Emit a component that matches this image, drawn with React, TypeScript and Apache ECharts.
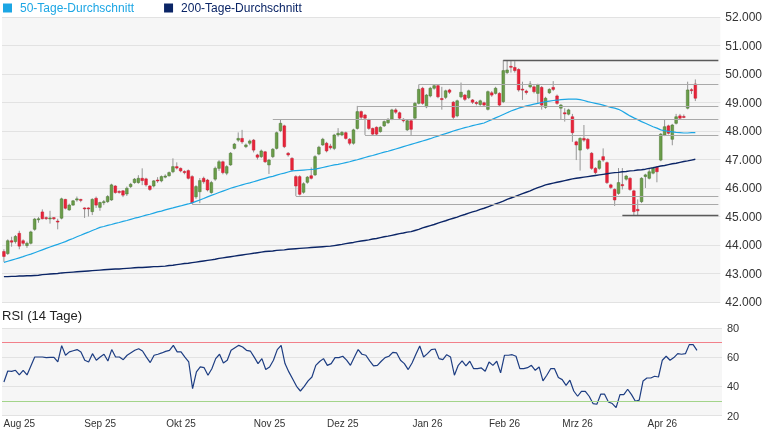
import React, { useEffect, useRef } from "react";
import * as echarts from "echarts";

// ---- data (prices in thousands of points) ----
const OPEN = [
  43.77,43.70,44.15,44.12,44.41,44.15,43.98,44.06,44.55,44.90,
  45.16,44.96,44.93,44.96,44.84,44.94,45.60,45.23,45.40,45.58,
  45.60,45.30,45.30,45.17,45.64,45.32,45.49,45.52,45.58,46.07,
  45.88,45.90,45.79,46.05,46.19,46.19,46.34,46.32,46.07,46.07,
  46.28,46.25,46.38,46.43,46.57,46.75,46.69,46.58,46.61,46.40,
  45.69,45.87,46.34,46.28,45.84,46.31,46.69,46.92,46.52,46.81,
  47.39,47.68,47.74,47.45,47.57,47.68,47.16,47.10,47.27,46.81,
  47.10,47.39,48.01,48.18,47.22,47.04,46.40,46.40,45.85,46.20,
  46.43,46.46,47.19,47.51,47.57,47.47,47.39,47.86,47.86,47.94,
  47.71,47.57,48.09,48.68,48.56,48.39,48.09,48.13,47.98,48.18,
  48.29,48.41,48.74,48.64,48.41,48.04,48.36,48.45,48.97,49.50,
  48.85,49.23,49.50,49.59,49.14,49.18,49.44,49.01,48.53,49.20,
  49.26,49.17,49.09,49.00,48.93,48.99,48.76,49.34,49.32,49.32,
  49.03,50.05,50.27,50.23,50.16,49.47,49.40,49.55,49.55,49.32,
  49.53,48.83,49.34,49.53,49.23,48.80,48.64,48.59,48.50,47.62,
  47.33,47.74,47.71,47.22,46.69,46.69,47.10,46.89,46.11,45.95,
  45.81,46.12,46.31,46.34,45.90,45.25,45.52,46.40,46.34,46.52,
  46.73,46.98,47.86,48.18,47.71,48.27,48.53,48.51,48.80,49.45,49.65
];
const CLOSE = [
  43.60,44.15,44.10,44.30,43.96,44.06,44.06,44.46,44.91,44.92,
  44.92,44.93,44.95,44.92,44.82,45.62,45.29,45.40,45.55,45.62,
  45.57,45.28,45.27,45.60,45.40,45.49,45.52,45.70,46.11,45.84,
  45.86,45.75,45.99,46.13,46.31,46.34,46.26,46.11,45.95,46.25,
  46.27,46.40,46.42,46.54,46.75,46.70,46.60,46.54,46.34,45.48,
  46.05,46.26,46.22,45.93,46.19,46.69,46.92,46.54,46.75,47.22,
  47.54,47.74,47.62,47.51,47.65,47.33,47.08,47.30,46.92,46.98,
  47.36,47.94,48.27,47.45,47.16,46.63,46.07,45.78,46.15,46.38,
  46.34,47.10,47.43,47.71,47.30,47.41,47.86,47.92,47.95,47.74,
  47.57,48.04,48.68,48.48,48.45,48.09,47.89,47.89,48.13,48.33,
  48.41,48.74,48.66,48.45,48.36,48.36,48.06,48.97,49.46,48.97,
  49.26,49.50,49.59,49.20,49.10,49.41,49.36,48.48,49.06,49.36,
  49.11,49.41,49.01,48.98,49.06,48.91,49.38,49.26,49.50,48.91,
  50.12,50.14,50.25,50.12,49.44,49.45,49.35,49.65,49.38,49.61,
  48.91,49.15,49.46,49.46,48.97,48.91,48.60,48.74,47.94,47.51,
  47.74,47.68,47.39,46.69,46.54,46.95,46.98,46.19,46.02,45.58,
  46.19,46.08,46.42,45.95,45.17,45.20,46.34,46.46,46.57,46.69,
  46.57,47.89,48.15,47.92,48.21,48.50,48.45,48.49,49.44,49.43,49.15
];
const LOW = [
  43.41,43.65,43.94,44.05,43.85,43.98,43.90,44.02,44.50,44.78,
  44.90,44.88,44.75,44.88,44.55,44.90,45.25,45.20,45.38,45.52,
  45.50,44.95,45.00,45.05,45.30,45.20,45.40,45.48,45.55,45.80,
  45.80,45.68,45.72,46.00,46.15,46.15,46.10,46.05,45.90,46.02,
  46.18,46.20,46.34,46.40,46.52,46.65,46.55,46.48,46.30,45.44,
  45.62,45.47,46.15,45.88,45.80,46.25,46.60,46.48,46.45,46.78,
  47.35,47.62,47.55,47.40,47.50,47.25,47.00,47.05,46.88,46.49,
  47.05,47.35,47.96,47.40,47.10,46.58,45.72,45.74,45.80,46.15,
  46.30,46.42,47.15,47.48,47.25,47.35,47.33,47.80,47.82,47.70,
  47.50,47.52,48.05,48.42,47.86,48.04,47.85,47.84,47.94,48.14,
  48.25,48.38,48.60,48.40,48.30,48.00,47.86,48.42,48.93,48.92,
  48.80,49.18,49.45,49.15,48.75,49.12,49.30,48.40,48.48,49.15,
  49.05,49.12,48.95,48.90,48.88,48.85,48.72,49.20,49.28,48.85,
  48.98,50.00,50.05,50.05,49.38,49.09,49.28,49.50,49.32,48.95,
  48.75,48.78,49.30,49.40,48.92,48.39,48.33,48.55,47.62,46.98,
  46.61,47.62,47.34,46.64,46.48,46.64,46.92,46.14,45.96,45.37,
  45.76,45.95,46.26,45.90,45.05,45.05,45.47,46.00,46.30,46.48,
  46.20,46.94,47.82,47.88,47.50,48.23,48.40,48.45,48.76,49.30,49.05
];
const HIGH = [
  43.85,44.20,44.29,44.35,44.50,44.20,44.12,44.50,44.95,44.98,
  45.25,45.00,45.20,44.98,44.92,45.66,45.62,45.45,45.58,45.70,
  45.62,45.32,45.32,45.64,45.70,45.52,45.58,45.75,46.15,46.10,
  45.92,45.93,46.05,46.18,46.35,46.45,46.69,46.36,46.10,46.28,
  46.38,46.44,46.48,46.58,47.04,46.90,46.72,46.62,46.65,46.45,
  46.10,46.35,46.40,46.32,46.25,46.75,46.98,46.96,46.80,47.26,
  47.58,47.95,48.04,47.56,47.70,47.72,47.20,47.35,47.30,47.02,
  47.40,47.98,48.41,48.22,47.26,47.08,46.45,46.45,46.20,46.42,
  46.72,47.15,47.48,47.76,47.62,47.55,47.90,48.10,48.00,47.98,
  47.75,48.08,48.88,48.72,48.60,48.43,48.12,48.16,48.17,48.37,
  48.45,48.78,48.80,48.68,48.45,48.40,48.40,49.02,49.63,49.55,
  49.30,49.55,49.63,49.63,49.55,49.45,49.48,49.05,49.10,49.70,
  49.30,49.45,49.12,49.05,49.10,49.03,49.42,49.40,49.55,49.36,
  50.49,50.49,50.49,50.45,50.20,49.73,49.45,49.75,49.60,49.66,
  49.58,49.20,49.50,49.75,49.28,48.95,48.80,48.78,48.60,47.66,
  47.78,48.21,47.75,47.26,46.73,46.99,47.39,46.93,46.15,45.99,
  46.70,46.70,46.46,46.38,45.94,45.60,46.38,46.50,46.70,46.73,
  46.77,47.93,48.40,48.22,48.25,48.60,48.60,48.58,49.73,49.50,49.81
];
const MA50 = [
  43.39,43.43,43.47,43.51,43.55,43.59,43.64,43.68,
  43.73,43.78,43.83,43.88,43.93,43.98,44.02,44.07,44.12,
  44.18,44.23,44.29,44.34,44.40,44.45,44.51,44.56,44.62,
  44.65,44.69,44.72,44.76,44.79,44.83,44.86,44.90,
  44.94,44.97,45.01,45.05,45.08,45.12,45.16,45.19,45.23,
  45.27,45.30,45.34,45.37,45.41,45.44,45.48,
  45.53,45.58,45.63,45.69,45.74,45.79,45.84,45.89,45.94,45.99,
  46.03,46.07,46.11,46.15,46.18,46.22,46.26,46.30,46.34,
  46.38,46.41,46.45,46.49,46.52,46.56,46.60,
  46.61,46.62,46.63,46.64,46.65,46.66,
  46.69,46.72,46.75,46.78,46.81,46.83,46.86,46.89,46.92,
  46.96,46.99,47.03,47.07,47.11,47.14,47.18,47.22,
  47.26,47.29,47.33,
  47.37,47.41,47.45,47.49,47.53,47.57,47.61,47.65,47.69,
  47.73,47.78,47.82,47.87,47.91,47.95,48.00,48.04,
  48.08,48.12,48.15,48.19,48.22,48.25,48.28,
  48.34,48.40,48.46,48.52,
  48.58,48.64,48.70,48.75,48.80,
  48.84,48.88,48.91,48.94,48.97,49.00,49.03,
  49.05,49.07,49.08,49.10,49.11,49.12,49.12,49.12,
  49.10,49.07,49.03,
  49.00,48.97,48.94,48.91,
  48.87,48.83,48.80,48.76,
  48.69,48.61,48.53,
  48.46,48.40,48.33,48.27,
  48.21,48.15,48.10,48.04,
  48.01,47.99,47.97,47.95,
  47.94,47.93,47.93,47.94,47.94
];
const MA200 = [
  42.89,42.89,42.90,42.90,42.91,42.91,42.92,42.92,
  42.93,42.94,42.96,42.97,42.98,42.99,43.00,43.02,43.03,
  43.04,43.05,43.06,43.07,43.08,43.09,43.10,43.11,43.12,
  43.13,43.14,43.15,43.16,43.16,43.17,43.18,43.19,
  43.20,43.21,43.21,43.22,43.23,43.24,43.24,43.25,43.26,
  43.28,43.29,43.31,43.33,43.35,43.36,43.38,43.40,43.42,
  43.44,43.46,43.48,43.50,43.53,43.55,43.57,43.59,
  43.61,43.63,43.65,43.67,43.69,43.71,43.73,43.75,43.77,
  43.78,43.79,43.81,43.82,43.83,43.85,43.86,43.87,43.88,
  43.89,43.90,43.91,43.92,43.93,43.94,43.95,43.96,
  43.98,44.00,44.02,44.05,44.07,44.09,44.12,44.14,44.16,44.18,44.21,44.23,
  44.26,44.29,44.31,44.34,44.37,44.40,44.42,44.45,44.47,
  44.51,44.55,44.60,44.64,44.68,44.72,44.77,44.81,44.85,44.90,44.94,
  44.98,45.03,45.07,45.12,45.16,45.20,45.25,45.29,45.34,
  45.39,45.44,45.49,45.54,45.60,45.65,45.70,45.75,
  45.80,45.85,45.90,45.96,46.01,46.06,46.11,
  46.14,46.17,46.20,46.23,46.26,46.29,46.32,
  46.34,46.36,46.38,46.40,46.42,46.44,46.46,46.48,46.50,46.52,
  46.54,46.55,46.57,46.58,46.60,46.61,46.63,46.64,46.66,
  46.69,46.71,46.74,46.77,46.79,46.82,46.85,46.87,46.90,46.93,46.95,46.98,47.01
];
const RSI = [
  43,50.5,50.3,51,47.8,51,47.8,54,60.1,60.1,
  60.1,59.7,59.8,59.9,56.7,67.9,61.3,63.6,64.4,65.2,
  63.6,57.9,56.7,62.4,57.9,60.1,62,57.4,65.2,60.1,
  60.1,58.3,61.3,63,64.7,65.8,64.2,60,56.3,61.3,
  62,62.9,64,64.7,68.1,63.6,63.6,60,56.7,38.4,
  49.9,53.3,52.8,47.6,52.1,59,62,56,57.9,64.7,
  66.5,68.1,67,64.7,64.2,60,55.6,59,51.5,53.3,
  57.9,65.2,68.1,55.6,49.9,45,40,36.8,40,43.7,
  46.4,54.4,57,59,54.4,55.6,59.7,59.7,60.6,58,
  54.4,60,65.2,62,61.3,57.5,54,54.4,57.2,59.7,
  60.6,63.3,62.9,57.9,55.6,51.5,56,62,67.7,60.1,
  62.4,65.2,65.6,59,58.3,61.7,60.1,47.6,54.4,57.4,
  54,57.2,52.1,52.1,52.6,50.3,56.7,54.4,57.2,49.2,
  61.3,61.3,61.7,60.6,52.1,52.1,52.8,54.4,51,53.3,
  43.7,47.6,52.1,52.1,46,44.6,40.7,44.2,36.8,33.2,
  36.6,36.6,33.2,28.2,27.7,34.6,34.6,29.3,28.2,25.4,
  34.3,34.3,38,34.3,29.8,30.5,43.7,45.7,45.7,46.9,
  46.4,57.9,60.6,57.9,59.7,62.4,62,62.4,68.6,68.6,64.7
];

// support / resistance lines: start index and level
const SR_START = [130, 108, 92, 70, 94, 76, 49, 161];
const SR_LEVEL = [50.49, 49.63, 48.88, 48.42, 47.86, 45.72, 45.44, 45.05];
const SR_STRONG = [true, false, false, false, false, false, false, true];

// calendar
const START_DATE = "2025-07-28";
const MARKET_HOLIDAYS = ["2025-09-01", "2025-11-27", "2025-12-25", "2026-01-01", "2026-01-19", "2026-02-16", "2026-04-03"];
const EXTRA_SLOTS = 6;
const MONTH_NAMES = ["Jan", "Feb", "Mrz", "Apr", "Mai", "Jun", "Jul", "Aug", "Sep", "Okt", "Nov", "Dez"];

const SERIES_NAMES = ["50-Tage-Durchschnitt", "200-Tage-Durchschnitt"];
const RSI_LEVELS = [70, 30];

function tradingDays(start: string, count: number, holidays: string[]): string[] {
  const out: string[] = [];
  const d = new Date(start + "T12:00:00Z");
  while (out.length < count) {
    const wd = d.getUTCDay();
    const s = d.toISOString().slice(0, 10);
    if (wd !== 0 && wd !== 6 && holidays.indexOf(s) < 0) out.push(s);
    d.setUTCDate(d.getUTCDate() + 1);
  }
  return out;
}

function fmtPrice(v: number): string {
  const n = Math.round(v * 1000);
  return String(n).replace(/\B(?=(\d{3})+(?!\d))/g, ".");
}

const C_MA50 = "#1ca6e4";
const C_MA200 = "#0b2566";
const UP_FILL = "#6b9d4a";
const UP_STROKE = "#46752e";
const DN_FILL = "#e8243a";
const DN_STROKE = "#c91a2e";
const WICK = "#959595";
const FONT = 'Arial, "Liberation Sans", Helvetica, sans-serif';

export default function App() {
  const ref = useRef<HTMLDivElement>(null);

  useEffect(() => {
    document.body.style.margin = "0";
    if (!ref.current) return;
    const chart = echarts.init(ref.current, undefined, { renderer: "svg" });

    const dates = tradingDays(START_DATE, OPEN.length + EXTRA_SLOTS, MARKET_HOLIDAYS);
    const monthStarts = new Set<number>();
    for (let i = 1; i < dates.length; i++) {
      if (dates[i].slice(5, 7) !== dates[i - 1].slice(5, 7)) monthStarts.add(i);
    }
    const lastCat = dates[dates.length - 1];

    const candleData = OPEN.map((o, i) => [i, o, CLOSE[i], LOW[i], HIGH[i]]);

    const srLines = SR_LEVEL.map((lv, k) => [
      {
        coord: [dates[SR_START[k]], lv],
        lineStyle: { color: SR_STRONG[k] ? "#5a5a5a" : "#a9a9a9", width: SR_STRONG[k] ? 1.3 : 1, type: "solid" },
      },
      { coord: [lastCat, lv] },
    ]);

    const option: any = {
      animation: false,
      textStyle: { fontFamily: FONT },
      title: {
        text: "RSI (14 Tage)",
        left: 2,
        top: 309,
        padding: 0,
        textStyle: { fontSize: 13, fontWeight: "normal", color: "#222", fontFamily: FONT },
      },
      legend: {
        left: 3,
        top: 2,
        padding: 0,
        icon: "rect",
        itemWidth: 9,
        itemHeight: 9,
        itemGap: 30,
        selectedMode: false,
        textStyle: { fontSize: 12, padding: [0, 0, 0, 3], fontFamily: FONT },
        data: [
          { name: SERIES_NAMES[0], textStyle: { color: C_MA50 } },
          { name: SERIES_NAMES[1], textStyle: { color: C_MA200 } },
        ],
      },
      grid: [
        { left: 2, right: 43, top: 17, height: 285, show: true, backgroundColor: "#f6f6f6", borderWidth: 0 },
        { left: 2, right: 43, top: 328, height: 87.5, show: true, backgroundColor: "#f6f6f6", borderWidth: 0 },
      ],
      xAxis: [
        {
          type: "category",
          gridIndex: 0,
          data: dates,
          axisLine: { show: false },
          axisTick: { show: false },
          axisLabel: { show: false },
          splitLine: { show: false },
        },
        {
          type: "category",
          gridIndex: 1,
          data: dates,
          axisLine: { show: false },
          axisTick: { show: false },
          splitLine: { show: false },
          axisLabel: {
            interval: (i: number) => monthStarts.has(i),
            formatter: (v: string) => MONTH_NAMES[parseInt(v.slice(5, 7), 10) - 1] + " " + v.slice(2, 4),
            fontSize: 10,
            color: "#333",
            margin: 3,
          },
        },
      ],
      yAxis: [
        {
          type: "value",
          gridIndex: 0,
          position: "right",
          min: 42,
          max: 52,
          interval: 1,
          axisLine: { show: false },
          axisTick: { show: false },
          splitLine: { lineStyle: { color: "#e2e2e2", width: 1 } },
          axisLabel: { formatter: fmtPrice, fontSize: 12, color: "#333", margin: 5 },
        },
        {
          type: "value",
          gridIndex: 1,
          position: "right",
          min: 20,
          max: 80,
          interval: 20,
          axisLine: { show: false },
          axisTick: { show: false },
          splitLine: { lineStyle: { color: "#e2e2e2", width: 1 } },
          axisLabel: { fontSize: 11, color: "#333", margin: 5 },
        },
      ],
      series: [
        {
          type: "line",
          name: "SR",
          xAxisIndex: 0,
          yAxisIndex: 0,
          data: [],
          z: 1,
          silent: true,
          markLine: {
            silent: true,
            symbol: ["none", "none"],
            label: { show: false },
            data: srLines,
          },
        },
        {
          type: "custom",
          name: "Kurs",
          xAxisIndex: 0,
          yAxisIndex: 0,
          data: candleData,
          encode: { x: 0, y: [1, 2, 3, 4] },
          z: 3,
          renderItem: (params: any, api: any) => {
            const idx = api.value(0);
            const o = api.value(1);
            const c = api.value(2);
            const l = api.value(3);
            const h = api.value(4);
            const pO = api.coord([idx, o]);
            const pC = api.coord([idx, c]);
            const pL = api.coord([idx, l]);
            const pH = api.coord([idx, h]);
            const w = api.size([1, 0])[0] * 0.7;
            const up = c >= o;
            const top = Math.min(pO[1], pC[1]);
            const hgt = Math.max(Math.abs(pO[1] - pC[1]), 1);
            return {
              type: "group",
              children: [
                {
                  type: "line",
                  shape: { x1: pL[0], y1: pL[1], x2: pH[0], y2: pH[1] },
                  style: { stroke: WICK, lineWidth: 1 },
                },
                {
                  type: "rect",
                  shape: { x: pO[0] - w / 2, y: top, width: w, height: hgt },
                  style: { fill: up ? UP_FILL : DN_FILL, stroke: up ? UP_STROKE : DN_STROKE, lineWidth: 0.5 },
                },
              ],
            };
          },
        },
        {
          type: "line",
          name: SERIES_NAMES[0],
          xAxisIndex: 0,
          yAxisIndex: 0,
          data: MA50,
          showSymbol: false,
          symbol: "none",
          z: 4,
          lineStyle: { color: C_MA50, width: 1.2 },
          itemStyle: { color: C_MA50 },
        },
        {
          type: "line",
          name: SERIES_NAMES[1],
          xAxisIndex: 0,
          yAxisIndex: 0,
          data: MA200,
          showSymbol: false,
          symbol: "none",
          z: 4,
          lineStyle: { color: C_MA200, width: 1.4 },
          itemStyle: { color: C_MA200 },
        },
        {
          type: "line",
          name: "RSI",
          xAxisIndex: 1,
          yAxisIndex: 1,
          data: RSI,
          showSymbol: false,
          symbol: "none",
          z: 4,
          lineStyle: { color: "#1d3d82", width: 1.2 },
          itemStyle: { color: "#1d3d82" },
          markLine: {
            silent: true,
            symbol: ["none", "none"],
            label: { show: false },
            data: [
              { yAxis: RSI_LEVELS[0], lineStyle: { color: "#f2808a", width: 1, type: "solid" } },
              { yAxis: RSI_LEVELS[1], lineStyle: { color: "#a3d48a", width: 1, type: "solid" } },
            ],
          },
        },
      ],
    };

    chart.setOption(option);
    return () => chart.dispose();
  }, []);

  return <div ref={ref} style={{ width: 765, height: 430, position: "fixed", left: 0, top: 0 }} />;
}
